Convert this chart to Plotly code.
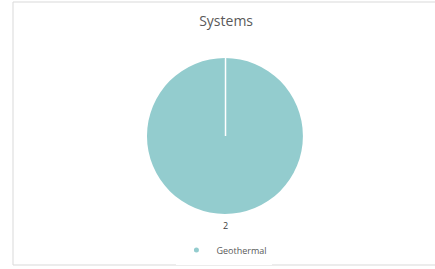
import plotly.graph_objects as go

categories = ["Geothermal"]
values = [2]
title_text = "Systems"
slice_color = "#93CCCE"

W, H = 435, 269
ml, mr, mt, mb = 13, 0, 2, 4

fig = go.Figure()
fig.add_trace(go.Pie(
    labels=categories,
    values=values,
    marker=dict(colors=[slice_color], line=dict(color="white", width=0)),
    textinfo="none",
    sort=False,
    direction="clockwise",
    rotation=0,
    domain=dict(x=[0.3175, 0.687], y=[0.194, 0.787]),
    hoverinfo="label+value",
    showlegend=False,
))
# legend entry with a small dot like the reference
fig.add_trace(go.Scatter(
    x=[None], y=[None], mode="markers", name=categories[0],
    marker=dict(color=slice_color, size=5, symbol="circle"),
    showlegend=True, hoverinfo="skip",
))

fig.update_layout(
    width=W, height=H,
    margin=dict(l=ml, r=mr, t=mt, b=mb),
    paper_bgcolor="white",
    plot_bgcolor="white",
    font=dict(family="Open Sans, Liberation Sans, sans-serif", color="#595959"),
    title=dict(text=title_text, x=0.505, xref="paper", y=1 - 21 / H, yref="container",
               xanchor="center", yanchor="middle",
               font=dict(size=14, color="#595959")),
    legend=dict(orientation="h", x=0.501, xanchor="center", y=0.057, yanchor="middle",
                font=dict(size=9, color="#595959"), itemwidth=30),
    xaxis=dict(visible=False),
    yaxis=dict(visible=False),
    shapes=[
        dict(type="rect", xref="paper", yref="paper", x0=0, x1=1.02, y0=0, y1=1,
             line=dict(color="#D9D9D9", width=1), layer="below"),
        dict(type="line", xref="paper", yref="paper", x0=0.5036, x1=0.5036,
             y0=0.4905, y1=0.787, line=dict(color="white", width=1.5)),
    ],
    annotations=[
        dict(text=str(values[0]), x=0.5036, y=0.152, xref="paper", yref="paper",
             showarrow=False, font=dict(size=9, color="#404040"), yanchor="middle"),
    ],
)

fig.write_html("out.html", config={"displayModeBar": False},
               post_script="document.body.style.margin='0';document.body.style.overflow='hidden';")
